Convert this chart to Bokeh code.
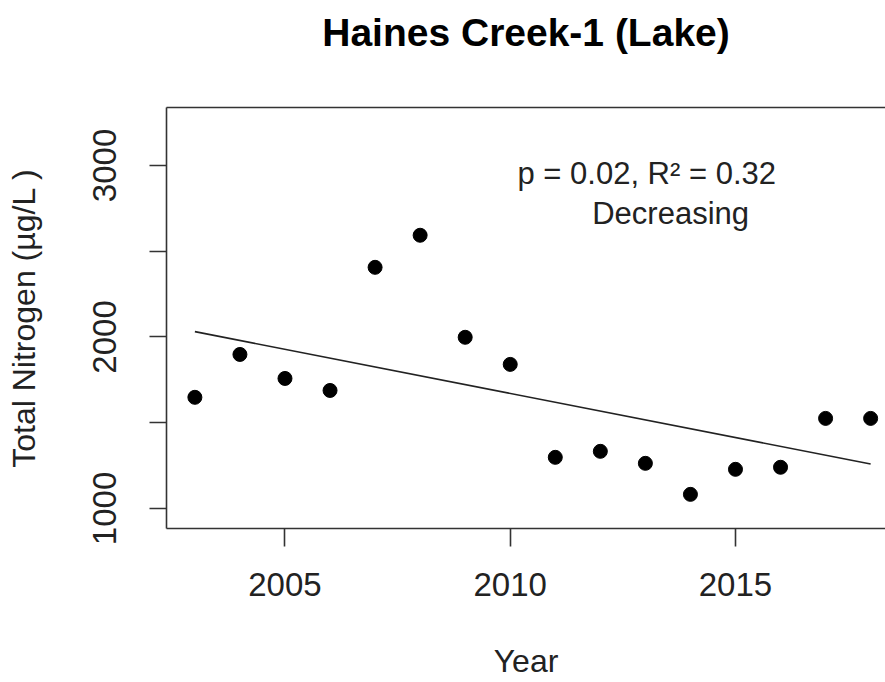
import numpy as np
from bokeh.plotting import figure
from bokeh.models import Range1d, FixedTicker, LinearAxis, Label
from bokeh.embed import file_html
from bokeh.resources import INLINE

# Annual mean total nitrogen, Haines Creek-1 (Lake)
years = [2003, 2004, 2005, 2006, 2007, 2008, 2009, 2010,
         2011, 2012, 2013, 2014, 2015, 2016, 2017, 2018]
tn_ugL = [1648, 1898, 1758, 1688, 2406, 2593, 1998, 1840,
          1298, 1333, 1263, 1082, 1228, 1240, 1525, 1525]

x_ticks = [2005, 2010, 2015]
y_ticks = [1000, 1500, 2000, 2500, 3000]
y_tick_labels = {1000: "1000", 1500: "", 2000: "2000", 2500: "", 3000: "3000"}

title_text = "Haines Creek-1 (Lake)"
x_label = "Year"
y_label = "Total Nitrogen (\u00b5g/L )"
trend_text = "p = 0.02, R\u00b2 = 0.32"
trend_word = "Decreasing"

FONT = "Liberation Sans"
INK = "#333333"
TEXT = "#222222"

# least-squares trend over the record
x = np.array(years, dtype=float)
y = np.array(tn_ugL, dtype=float)
slope, intercept = np.polyfit(x, y, 1)
x_fit = np.array([x.min(), x.max()])
y_fit = intercept + slope * x_fit

p = figure(width=885, height=682,
           x_range=Range1d(2002.37, 2018.33),
           y_range=Range1d(883, 3338),
           output_backend="svg", toolbar_location=None,
           min_border_left=166, min_border_right=0,
           min_border_top=107, min_border_bottom=154)
p.grid.visible = False
p.outline_line_color = None
p.background_fill_color = "white"
p.border_fill_color = "white"

for ax in (p.xaxis[0], p.yaxis[0]):
    ax.axis_line_color = INK
    ax.axis_line_width = 1.6
    ax.major_tick_line_color = INK
    ax.major_tick_line_width = 1.6
    ax.major_tick_in = 0
    ax.minor_tick_line_color = None
    ax.major_label_text_font = FONT
    ax.major_label_text_color = TEXT
    ax.axis_label_text_font = FONT
    ax.axis_label_text_font_style = "normal"
    ax.axis_label_text_color = TEXT

xa = p.xaxis[0]
xa.ticker = FixedTicker(ticks=x_ticks)
xa.major_tick_out = 18
xa.major_label_text_font_size = "33px"
xa.major_label_standoff = 26
xa.axis_label = x_label
xa.axis_label_text_font_size = "32px"
xa.axis_label_standoff = 44

ya = p.yaxis[0]
ya.ticker = FixedTicker(ticks=y_ticks)
ya.major_label_overrides = {k: v for k, v in y_tick_labels.items()}
ya.major_label_orientation = "vertical"
ya.major_tick_out = 17
ya.major_label_text_font_size = "33px"
ya.major_label_standoff = 33
ya.axis_label = y_label
ya.axis_label_text_font_size = "32px"
ya.axis_label_standoff = 49

# top edge of the plot box, carrying the chart title
top = LinearAxis(ticker=FixedTicker(ticks=[]))
top.axis_line_color = INK
top.axis_line_width = 1.6
top.major_tick_line_color = None
top.major_tick_out = 0
top.major_tick_in = 0
top.minor_tick_line_color = None
top.major_label_text_color = None
top.major_label_text_font_size = "1px"
top.major_label_standoff = 0
top.axis_label = title_text
top.axis_label_text_font = FONT
top.axis_label_text_font_size = "39px"
top.axis_label_text_font_style = "bold"
top.axis_label_text_color = "black"
top.axis_label_standoff = 54
p.add_layout(top, "above")

p.line(x_fit, y_fit, line_color=TEXT, line_width=1.6)
p.scatter(years, tn_ugL, size=14, marker="circle",
          fill_color="black", line_color="black")

p.add_layout(Label(x=2013.03, y=2953, text=trend_text,
                   text_align="center", text_baseline="alphabetic",
                   text_font=FONT, text_font_size="31px", text_color=TEXT))
p.add_layout(Label(x=2013.56, y=2720, text=trend_word,
                   text_align="center", text_baseline="alphabetic",
                   text_font=FONT, text_font_size="31px", text_color=TEXT))

open("out.html", "w").write(file_html(p, INLINE))
